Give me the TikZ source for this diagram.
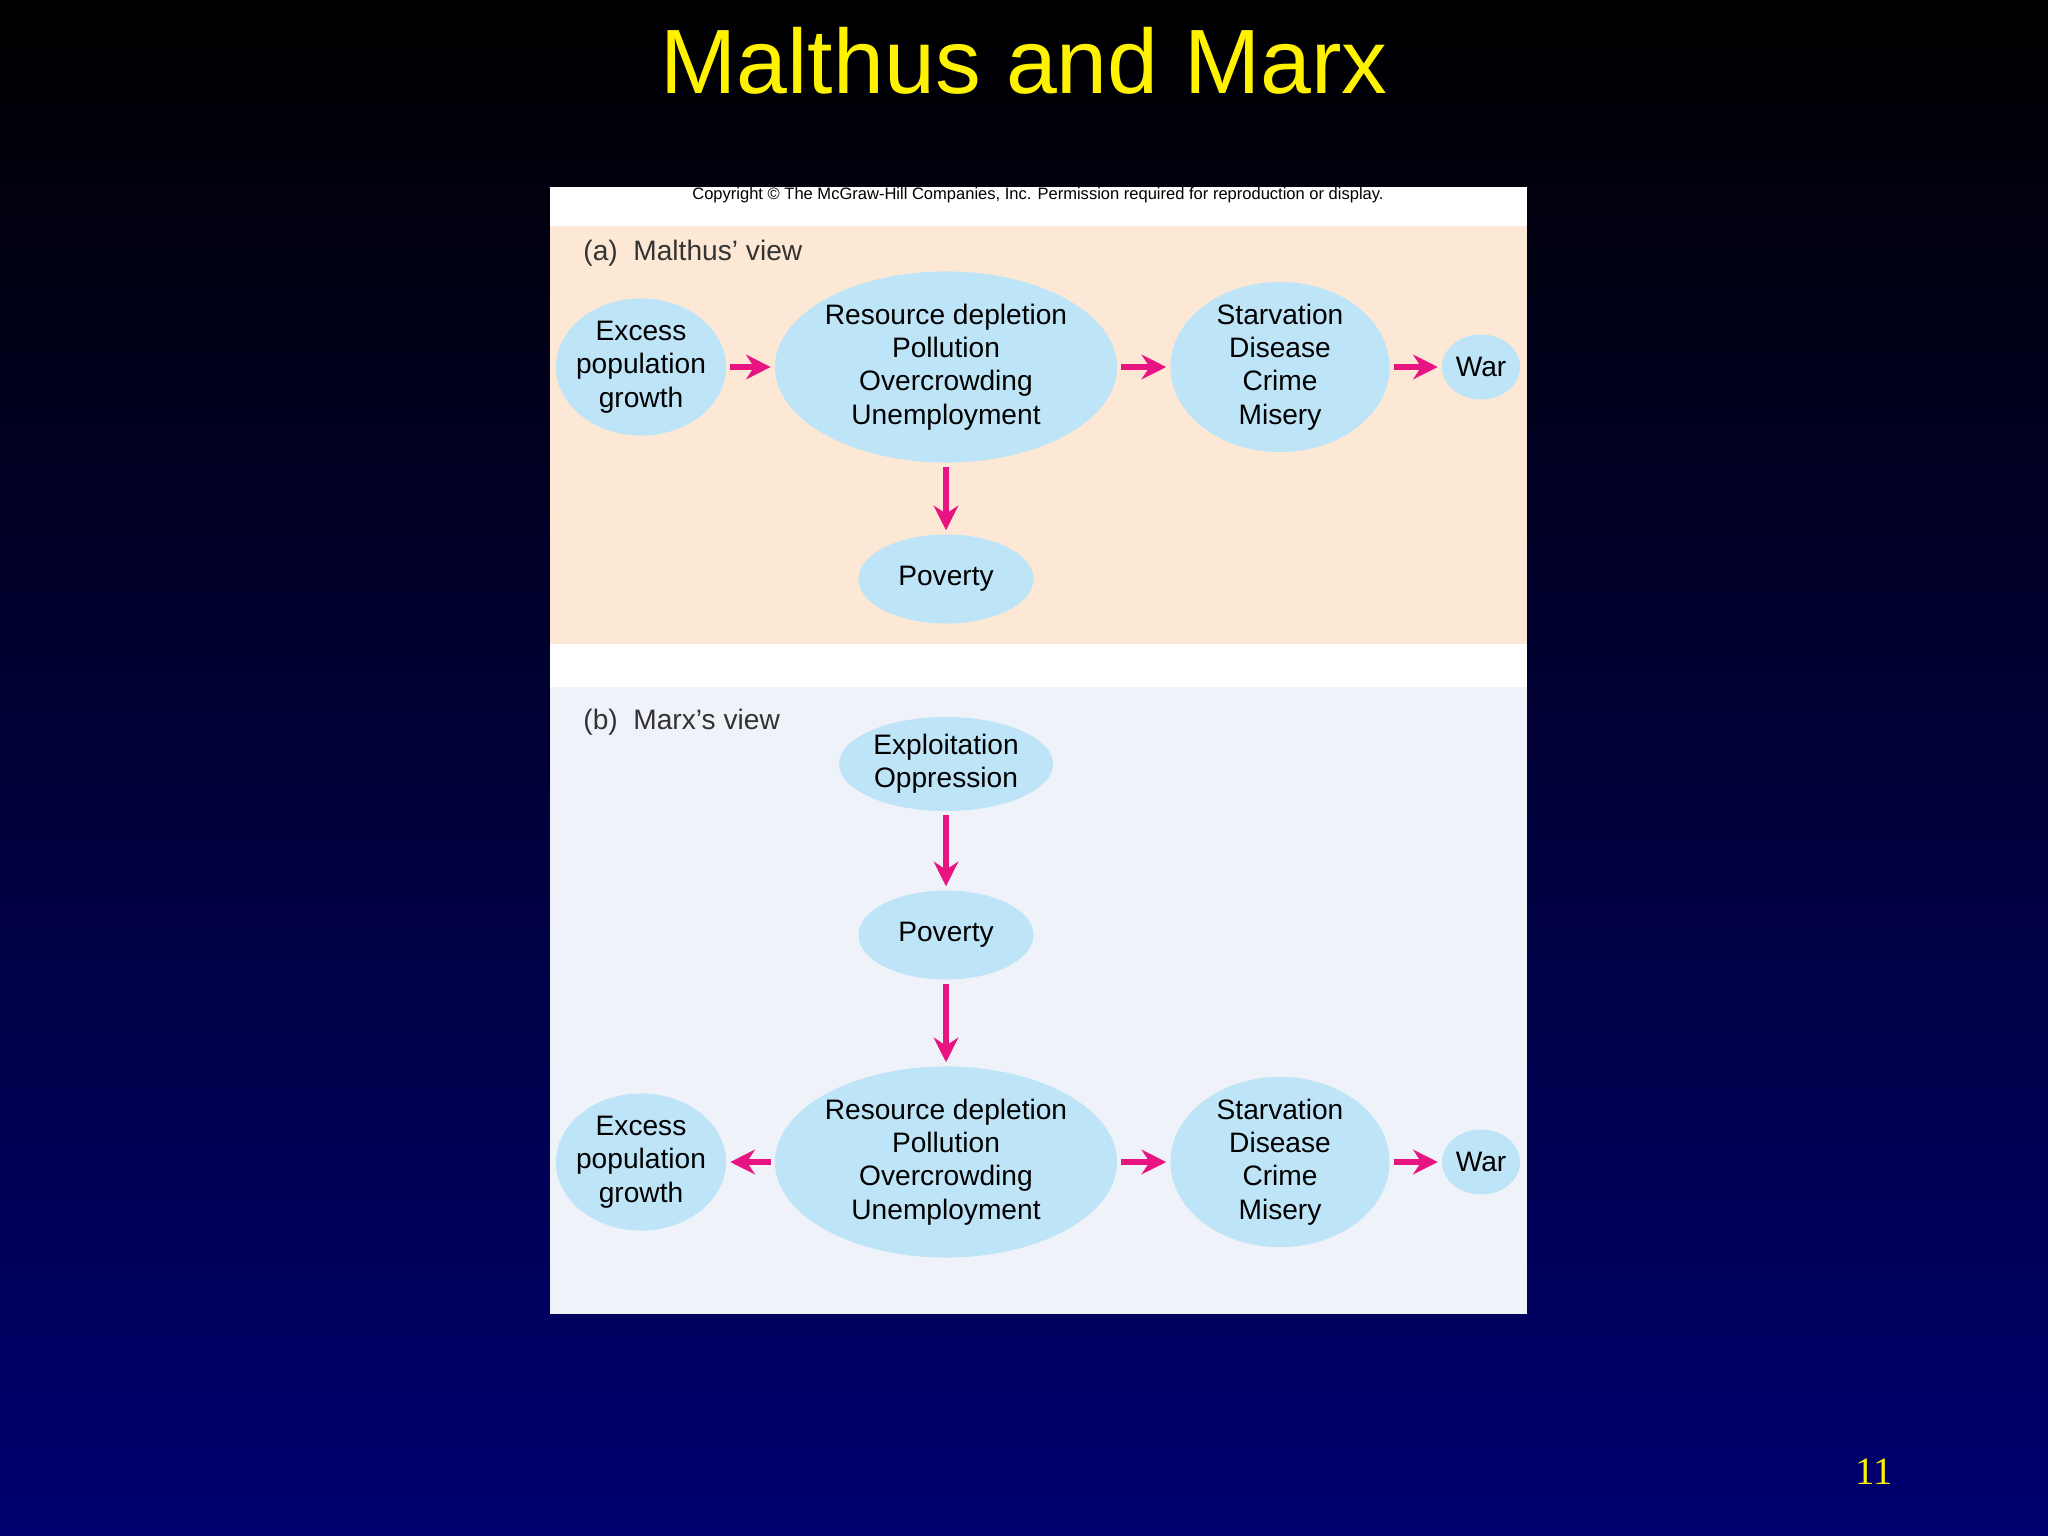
\documentclass[tikz,border=0pt]{standalone}
\usepackage{fontspec}
\setmainfont{Liberation Sans}
\newfontfamily\seriffont{Liberation Serif}
\usetikzlibrary{shapes.geometric,arrows.meta}
\definecolor{arr}{RGB}{232,20,130}
\definecolor{ell}{RGB}{190,228,248}
\definecolor{peach}{RGB}{253,232,214}
\definecolor{pale}{RGB}{240,242,250}
\definecolor{navy}{RGB}{0,0,112}
\tikzset{
 el/.style={ellipse,fill=ell,inner sep=-2pt,align=center,font=\fontsize{8}{9.5}\selectfont},
 ar/.style={-{Stealth[length=7pt,width=7pt]},arr,line width=1.5pt,shorten >=1pt,shorten <=1pt},
 lbl/.style={anchor=west,font=\fontsize{8}{10}\selectfont,text=black!80}
}
\begin{document}
\begin{tikzpicture}[x=0.01cm,y=-0.01cm]
\shade[top color=black,bottom color=navy,middle color=black!50!navy] (0,0) rectangle (2048,1536);
\useasboundingbox (0,0) rectangle (2048,1536);
\node[text=yellow,font=\fontsize{26}{28}\selectfont] (title) at (1024,61) {Malthus and Marx};
\node[text=yellow,font=\seriffont\fontsize{11}{12}\selectfont] (pg) at (1874,1472) {11};
\fill[white] (550,187) rectangle (1527,1314);
\fill[peach] (550,226) rectangle (1527,644);
\fill[pale] (550,687) rectangle (1527,1314);
\node[font=\fontsize{4.7}{5}\selectfont] (copy) at (1038,195) {Copyright \textcopyright\ The McGraw-Hill Companies, Inc. Permission required for reproduction or display.};
\node[lbl] (la) at (571,253) {(a)\ \ Malthus’ view};
\node[lbl] (lb) at (571,722) {(b)\ \ Marx’s view};
% (a)
\node[el,minimum width=1.70cm,minimum height=1.37cm] (ea) at (641,367) {Excess\\population\\growth};
\node[el,minimum width=3.42cm,minimum height=1.91cm] (ra) at (946,367) {Resource depletion\\Pollution\\Overcrowding\\Unemployment};
\node[el,minimum width=2.19cm,minimum height=1.70cm] (sa) at (1280,367) {Starvation\\Disease\\Crime\\Misery};
\node[el,minimum width=0.78cm,minimum height=0.65cm] (wa) at (1481,367) {War};
\node[el,minimum width=1.75cm,minimum height=0.89cm] (pa) at (946,579) {Poverty};
\draw[ar] (ea) -- (ra);
\draw[ar] (ra) -- (sa);
\draw[ar] (sa) -- (wa);
\draw[ar] (ra) -- (pa);
% (b)
\node[el,minimum width=2.14cm,minimum height=0.94cm] (xb) at (946,764) {Exploitation\\Oppression};
\node[el,minimum width=1.75cm,minimum height=0.89cm] (pb) at (946,935) {Poverty};
\node[el,minimum width=1.70cm,minimum height=1.37cm] (eb) at (641,1162) {Excess\\population\\growth};
\node[el,minimum width=3.42cm,minimum height=1.91cm] (rb) at (946,1162) {Resource depletion\\Pollution\\Overcrowding\\Unemployment};
\node[el,minimum width=2.19cm,minimum height=1.70cm] (sb) at (1280,1162) {Starvation\\Disease\\Crime\\Misery};
\node[el,minimum width=0.78cm,minimum height=0.65cm] (wb) at (1481,1162) {War};
\draw[ar] (xb) -- (pb);
\draw[ar] (pb) -- (rb);
\draw[ar] (rb) -- (eb);
\draw[ar] (rb) -- (sb);
\draw[ar] (sb) -- (wb);
\end{tikzpicture}
\end{document}
